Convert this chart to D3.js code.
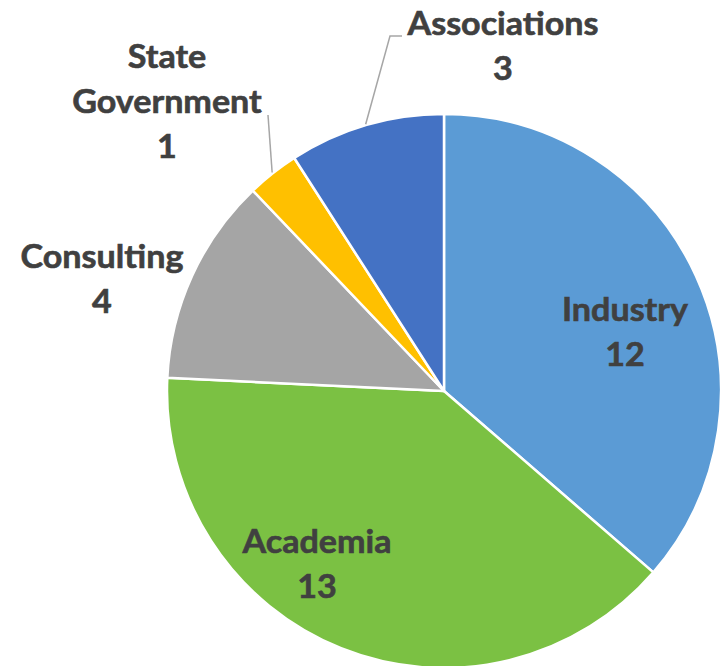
<!DOCTYPE html>
<html>
<head>
<meta charset="utf-8">
<script src="https://cdn.jsdelivr.net/npm/d3@7"></script>
<style>
  html, body { margin: 0; padding: 0; background: #fff; }
  svg { display: block; }
</style>
</head>
<body>
<svg id="chart" width="722" height="666"></svg>
<script>
// ---- data ----
const categories = ["Industry", "Academia", "Consulting", "State Government", "Associations"];
const values = [12, 13, 4, 1, 3];
const colors = ["#5B9BD5", "#7BC143", "#A5A5A5", "#FFC000", "#4472C4"];

// ---- layout ----
const W = 722, H = 666;
const cx = 444, cy = 391, R = 277;
const lineGap = 45;
// label block: [centre x, first baseline y, lines of category text]
const labelLayout = [
  { x: 625, y: 321, lines: ["Industry"] },
  { x: 317, y: 553, lines: ["Academia"] },
  { x: 102, y: 268, lines: ["Consulting"] },
  { x: 167, y: 68,  lines: ["State", "Government"] },
  { x: 503, y: 35,  lines: ["Associations"] }
];
// leader line end points (label side) for slices that need them
const leaders = {
  3: [[268, 115]],
  4: [[390, 36], [402, 36]]
};

const svg = d3.select("#chart");
const g = svg.append("g").attr("transform", `translate(${cx},${cy})`);

const pie = d3.pie().sort(null).value(d => d.value);
const arcs = pie(categories.map((c, i) => ({ cat: c, value: values[i], color: colors[i] })));
const arc = d3.arc().innerRadius(0).outerRadius(R);

g.selectAll("path.slice")
  .data(arcs)
  .join("path")
  .attr("class", "slice")
  .attr("d", arc)
  .attr("fill", d => d.data.color)
  .attr("stroke", "#fff")
  .attr("stroke-width", 2.5)
  .attr("stroke-linejoin", "round");

// leader lines
arcs.forEach((a, i) => {
  if (!leaders[i]) return;
  const mid = (a.startAngle + a.endAngle) / 2;
  const start = [cx + (R + 1) * Math.sin(mid), cy - (R + 1) * Math.cos(mid)];
  const pts = [start].concat(leaders[i]);
  svg.append("path")
    .attr("d", d3.line()(pts))
    .attr("fill", "none")
    .attr("stroke", "#A6A6A6")
    .attr("stroke-width", 1.5);
});

// labels
const fontFamily = "Lato, 'Open Sans', sans-serif";
const fontSize = 32;
const probe = svg.append("text")
  .attr("font-family", fontFamily).attr("font-weight", 700).attr("font-size", fontSize)
  .text("Industry");
const natural = probe.node().getComputedTextLength();
probe.remove();
const sx = natural > 0 ? 126 / natural : 1;

arcs.forEach((a, i) => {
  const L = labelLayout[i];
  const lines = L.lines.concat([String(a.data.value)]);
  const t = svg.append("g")
    .attr("transform", `translate(${L.x},${L.y}) scale(${sx},1)`);
  lines.forEach((ln, k) => {
    t.append("text")
      .attr("x", 0)
      .attr("y", k * lineGap)
      .attr("text-anchor", "middle")
      .attr("font-family", fontFamily)
      .attr("font-weight", 700)
      .attr("font-size", fontSize)
      .attr("fill", "#404040")
      .attr("stroke", "#404040")
      .attr("stroke-width", 0.6)
      .text(ln);
  });
});
</script>
</body>
</html>
